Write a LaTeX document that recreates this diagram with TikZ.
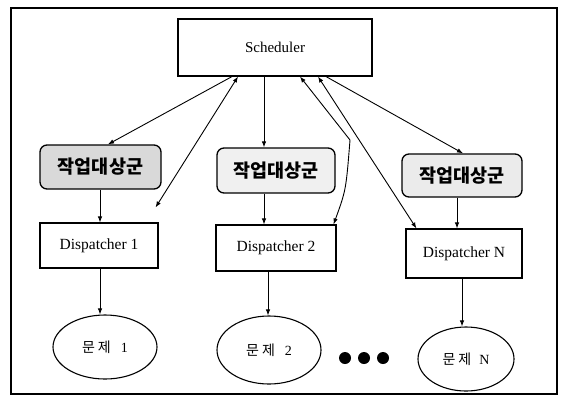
\documentclass[tikz,border=0pt]{standalone}
\usepackage{fontspec}
\setmainfont{Liberation Serif}
\newfontfamily\kr{Noto Sans CJK KR}
\usetikzlibrary{arrows.meta,calc,shapes.geometric}
\begin{document}
\begin{tikzpicture}[x=1pt,y=-1pt,
  schbox/.style={draw, line width=1.1pt, inner sep=0pt, font=\fontsize{15}{18}\selectfont},
  tgbox/.style={draw, line width=1.3pt, rounded corners=7pt, inner sep=0pt, font=\kr\bfseries\fontsize{18.5}{22}\selectfont},
  dbox/.style={draw, line width=1.1pt, inner sep=0pt, font=\fontsize{15.5}{18}\selectfont},
  ebox/.style={draw, ellipse, line width=1.1pt, inner sep=0pt, font=\fontsize{14}{16}\selectfont},
  dotnode/.style={circle, fill=black, minimum size=12pt, inner sep=0pt},
  arr/.style={-{Latex[length=6pt,width=4.5pt]}, line width=0.9pt},
  darr/.style={{Latex[length=6pt,width=4.5pt]}-{Latex[length=6pt,width=4.5pt]}, line width=0.9pt}]
\useasboundingbox (0,0) rectangle (561,399);
\fill[white] (0,0) rectangle (561,399);
\draw[line width=1.5pt] (11,8) rectangle (557,394);

\node[schbox, minimum width=194pt, minimum height=57pt] (sch) at (275,47.5) {Scheduler};

\node[tgbox, fill=black!15, minimum width=121pt, minimum height=44pt] (tg1) at (100.5,167) {작업대상군};
\node[tgbox, fill=black!6, minimum width=118pt, minimum height=45pt] (tg2) at (276,170.5) {작업대상군};
\node[tgbox, fill=black!8, minimum width=120pt, minimum height=43pt] (tg3) at (462,175.5) {작업대상군};

\node[dbox, minimum width=118pt, minimum height=45pt] (d1) at (99,245.5) {Dispatcher 1};
\node[dbox, minimum width=120pt, minimum height=46pt] (d2) at (276,248) {Dispatcher 2};
\node[dbox, minimum width=116pt, minimum height=49pt] (dn) at (464,253.5) {Dispatcher N};

\node[ebox, minimum width=104pt, minimum height=64pt] (e1) at (105,347) {{\kr 문\hspace{3pt}제}\hspace{10pt}1};
\node[ebox, minimum width=104pt, minimum height=68pt] (e2) at (269,350) {{\kr 문\hspace{3pt}제}\hspace{10pt}2};
\node[ebox, minimum width=96pt, minimum height=64pt] (en) at (466,359) {{\kr 문\hspace{3pt}제}\hspace{8pt}N};

\node[dotnode] (p1) at (345,358) {};
\node[dotnode] (p2) at (364,358) {};
\node[dotnode] (p3) at (383,358) {};

\coordinate (c1) at (350,140);
\coordinate (c2) at (346,190);

\draw[arr] ([xshift=-43pt]sch.south) -- ([xshift=7.5pt]tg1.north);
\draw[darr] ([xshift=-37pt]sch.south) -- ([xshift=-3pt,yshift=15pt]d1.north east);
\draw[arr] ([xshift=-11pt]sch.south) -- ([xshift=-11pt]sch.south |- tg2.north);
\draw[darr] ([xshift=25pt]sch.south) -- (c1) .. controls (c2) .. ([xshift=-3pt]d2.north east);
\draw[darr] ([xshift=43pt]sch.south) -- ([xshift=11pt]dn.north west);
\draw[arr] ([xshift=51pt]sch.south) -- ([xshift=1pt]tg3.north);

\draw[arr] ([xshift=-0.5pt]tg1.south) -- ([xshift=-0.5pt]tg1.south |- d1.north);
\draw[arr] ([xshift=1pt]d1.south) -- ([xshift=1pt]d1.south |- e1.north);
\draw[arr] ([xshift=-12pt]tg2.south) -- ([xshift=-12pt]tg2.south |- d2.north);
\draw[arr] ([xshift=-8pt]d2.south) -- ([xshift=-8pt]d2.south |- e2.north);
\draw[arr] ([xshift=-5pt]tg3.south) -- ([xshift=-5pt]tg3.south |- dn.north);
\draw[arr] ([xshift=-2pt]dn.south) -- ([xshift=-2pt]dn.south |- en.north);
\end{tikzpicture}
\end{document}
